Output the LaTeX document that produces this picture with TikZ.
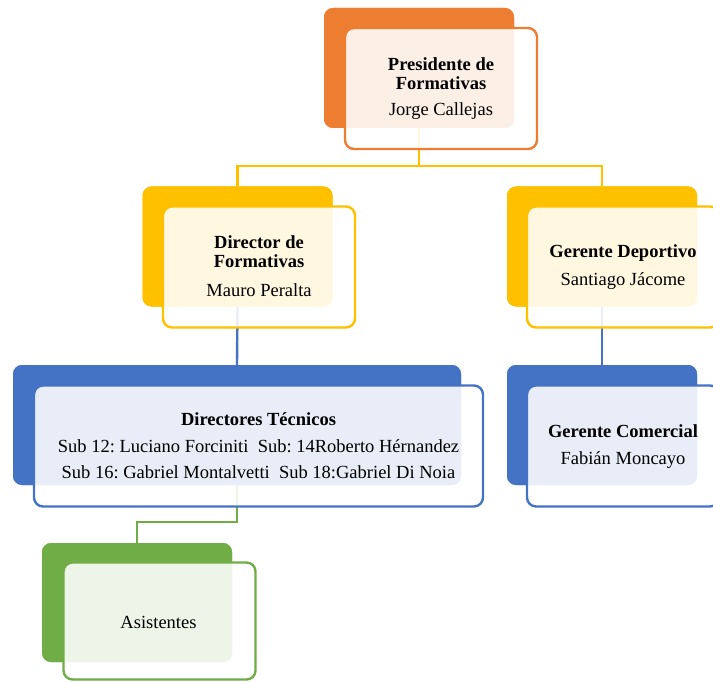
\documentclass[tikz,border=0pt]{standalone}
\usepackage{fontspec}
\setmainfont{Liberation Serif}
\frenchspacing
\definecolor{cOr}{HTML}{ED7D31}
\definecolor{cYe}{HTML}{FFC000}
\definecolor{cBl}{HTML}{4472C4}
\definecolor{cGr}{HTML}{70AD47}
\tikzset{
  backbox/.style={fill=#1, draw=none, rounded corners=9pt, minimum width=190pt, minimum height=120pt, inner sep=0pt},
  frontbox/.style={fill=white, fill opacity=0.88, draw=#1, line width=2.4pt, rounded corners=9pt, minimum width=192pt, minimum height=121pt, inner sep=0pt},
  conn/.style={draw=#1, line width=2.4pt},
  ttl/.style={font=\fontsize{18.5}{20}\selectfont\bfseries, anchor=base, inner sep=0pt},
  txt/.style={font=\fontsize{18.5}{20}\selectfont, anchor=base, inner sep=0pt}
}
\begin{document}
\begin{tikzpicture}[x=1pt,y=-1pt]
\useasboundingbox (0,0) rectangle (713,682);
\clip (0,0) rectangle (713,682);
% back boxes
\node[backbox=cOr] (presB) at (419,68) {};
\node[backbox=cYe] (dirB) at (237.5,246.5) {};
\node[backbox=cYe] (gdB) at (602,246.5) {};
\node[backbox=cBl, minimum width=448pt] (dtB) at (237,425) {};
\node[backbox=cBl] (gcB) at (602,425) {};
\node[backbox=cGr, minimum height=119pt] (asB) at (137,602.5) {};
% connectors
\draw[conn=cYe] (presB.south) -- ++(0,38) -| (dirB.north);
\draw[conn=cYe] (presB.south) -- ++(0,38) -| (gdB.north);
\draw[conn=cBl] (dirB.south) -- (dtB.north);
\draw[conn=cBl] (gdB.south) -- (gcB.north);
\draw[conn=cGr] (dtB.south) -- ++(0,37) -| (asB.north);
% redraw back boxes over connector starts
\node[backbox=cOr] at (presB) {};
\node[backbox=cYe] at (dirB) {};
\node[backbox=cYe] at (gdB) {};
\node[backbox=cBl, minimum width=448pt] at (dtB) {};
\node[backbox=cBl] at (gcB) {};
\node[backbox=cGr, minimum height=119pt] at (asB) {};
% front boxes
\node[frontbox=cOr] (presF) at (441,88.5) {};
\node[frontbox=cYe] (dirF) at (259,267) {};
\node[frontbox=cYe] (gdF) at (623,267) {};
\node[frontbox=cBl, minimum width=449pt] (dtF) at (258.5,446) {};
\node[frontbox=cBl] (gcF) at (623,446) {};
\node[frontbox=cGr, minimum height=117pt] (asF) at (159.5,621) {};
% texts
\node[ttl] (p1) at (441,71) {Presidente de};
\node[ttl] (p2) at (441,90) {Formativas};
\node[txt] (p3) at (441,116) {Jorge Callejas};
\node[ttl] (d1) at (259,249) {Director de};
\node[ttl] (d2) at (259,268) {Formativas};
\node[txt] (d3) at (259,296) {Mauro Peralta};
\node[ttl] (g1) at (623,258) {Gerente Deportivo};
\node[txt] (g2) at (623,286) {Santiago Jácome};
\node[ttl] (t1) at (258.5,425) {Directores Técnicos};
\node[txt] (t2) at (258.5,452) {Sub 12: Luciano Forciniti\ \ Sub: 14Roberto Hérnandez};
\node[txt] (t3) at (258.5,478) {Sub 16: Gabriel Montalvetti\ \ Sub 18:Gabriel Di Noia};
\node[ttl] (c1) at (623,437) {Gerente Comercial};
\node[txt] (c2) at (623,464) {Fabián Moncayo};
\node[txt] (a1) at (158.5,628) {Asistentes};
\end{tikzpicture}
\end{document}
